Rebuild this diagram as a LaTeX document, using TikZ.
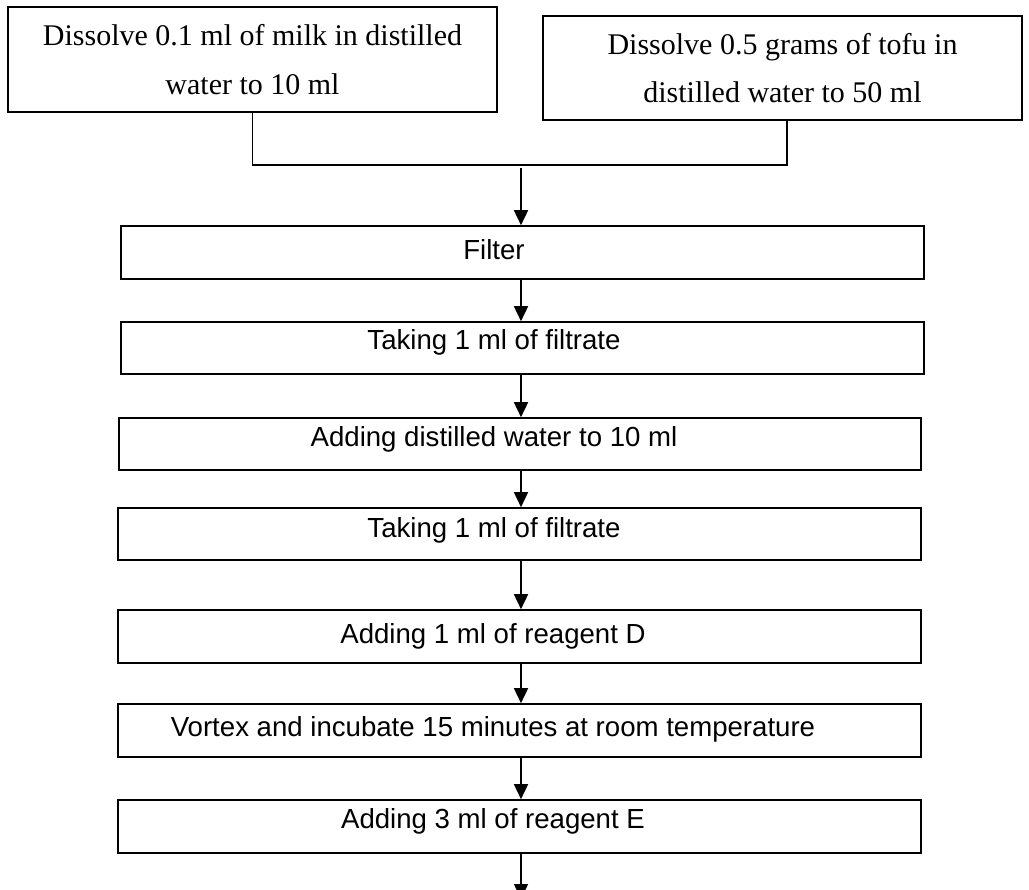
\documentclass[tikz,border=0pt]{standalone}
\usepackage{fontspec}
\setmainfont{Liberation Serif}
\setsansfont{Liberation Sans}
\usetikzlibrary{arrows.meta}

\tikzset{
  srcbox/.style={draw, line width=1.6pt, inner sep=0pt, align=center,
    font=\fontsize{30}{48.5}\selectfont},
  stepbox/.style={draw, line width=1.6pt, inner sep=0pt,
    minimum width=803pt, minimum height=53pt},
  steptext/.style={anchor=base, inner sep=0pt,
    font=\sffamily\fontsize{27.6}{32}\selectfont},
  link/.style={line width=1.6pt},
  arr/.style={line width=1.6pt, -{Triangle[length=15pt,width=14pt]}}
}

\begin{document}
\begin{tikzpicture}[x=1pt, y=-1pt]
  \clip (0,0) rectangle (1029,890);

  % two starting samples
  \node[srcbox, minimum width=489pt, minimum height=105pt] (milk) at (252.5,59.5)
    {Dissolve 0.1 ml of milk in distilled\\water to 10 ml};
  \node[srcbox, minimum width=479pt, minimum height=104pt] (tofu) at (782.5,68)
    {Dissolve 0.5 grams of tofu in\\distilled water to 50 ml};

  % procedure steps
  \node[stepbox] (filter) at (522.5,252.5) {};
  \node[stepbox, minimum height=52pt] (take1) at (522.5,348) {};
  \node[stepbox, minimum width=802pt, minimum height=52pt] (dilute) at (520,444) {};
  \node[stepbox, minimum height=52pt] (take2) at (519.5,534) {};
  \node[stepbox] (reagD) at (519.5,636.5) {};
  \node[stepbox] (vortex) at (519.5,730.5) {};
  \node[stepbox] (reagE) at (519.5,826.5) {};

  \node[steptext] (tfilter) at (494,260) {Filter};
  \node[steptext] (ttake1) at (494,350) {Taking 1 ml of filtrate};
  \node[steptext] (tdilute) at (494,447) {Adding distilled water to 10 ml};
  \node[steptext] (ttake2) at (494,538) {Taking 1 ml of filtrate};
  \node[steptext] (treagD) at (493,643) {Adding 1 ml of reagent D};
  \node[steptext] (tvortex) at (493,736) {Vortex and incubate 15 minutes at room temperature};
  \node[steptext] (treagE) at (493,828) {Adding 3 ml of reagent E};

  % joining the two samples
  \coordinate (join) at (521,165);
  \coordinate (out) at (521,899);
  \draw[link] (milk.south) |- (join);
  \draw[link] ([xshift=4.5pt]tofu.south) |- (join);
  \draw[arr] ([yshift=-3pt]join) -- (filter.north -| join);

  % flow between steps
  \draw[arr] (filter.south -| join) -- (take1.north -| join);
  \draw[arr] (take1.south -| join) -- (dilute.north -| join);
  \draw[arr] (dilute.south -| join) -- (take2.north -| join);
  \draw[arr] (take2.south -| join) -- (reagD.north -| join);
  \draw[arr] (reagD.south -| join) -- (vortex.north -| join);
  \draw[arr] (vortex.south -| join) -- (reagE.north -| join);
  \draw[arr] (reagE.south -| join) -- (out);
\end{tikzpicture}
\end{document}
